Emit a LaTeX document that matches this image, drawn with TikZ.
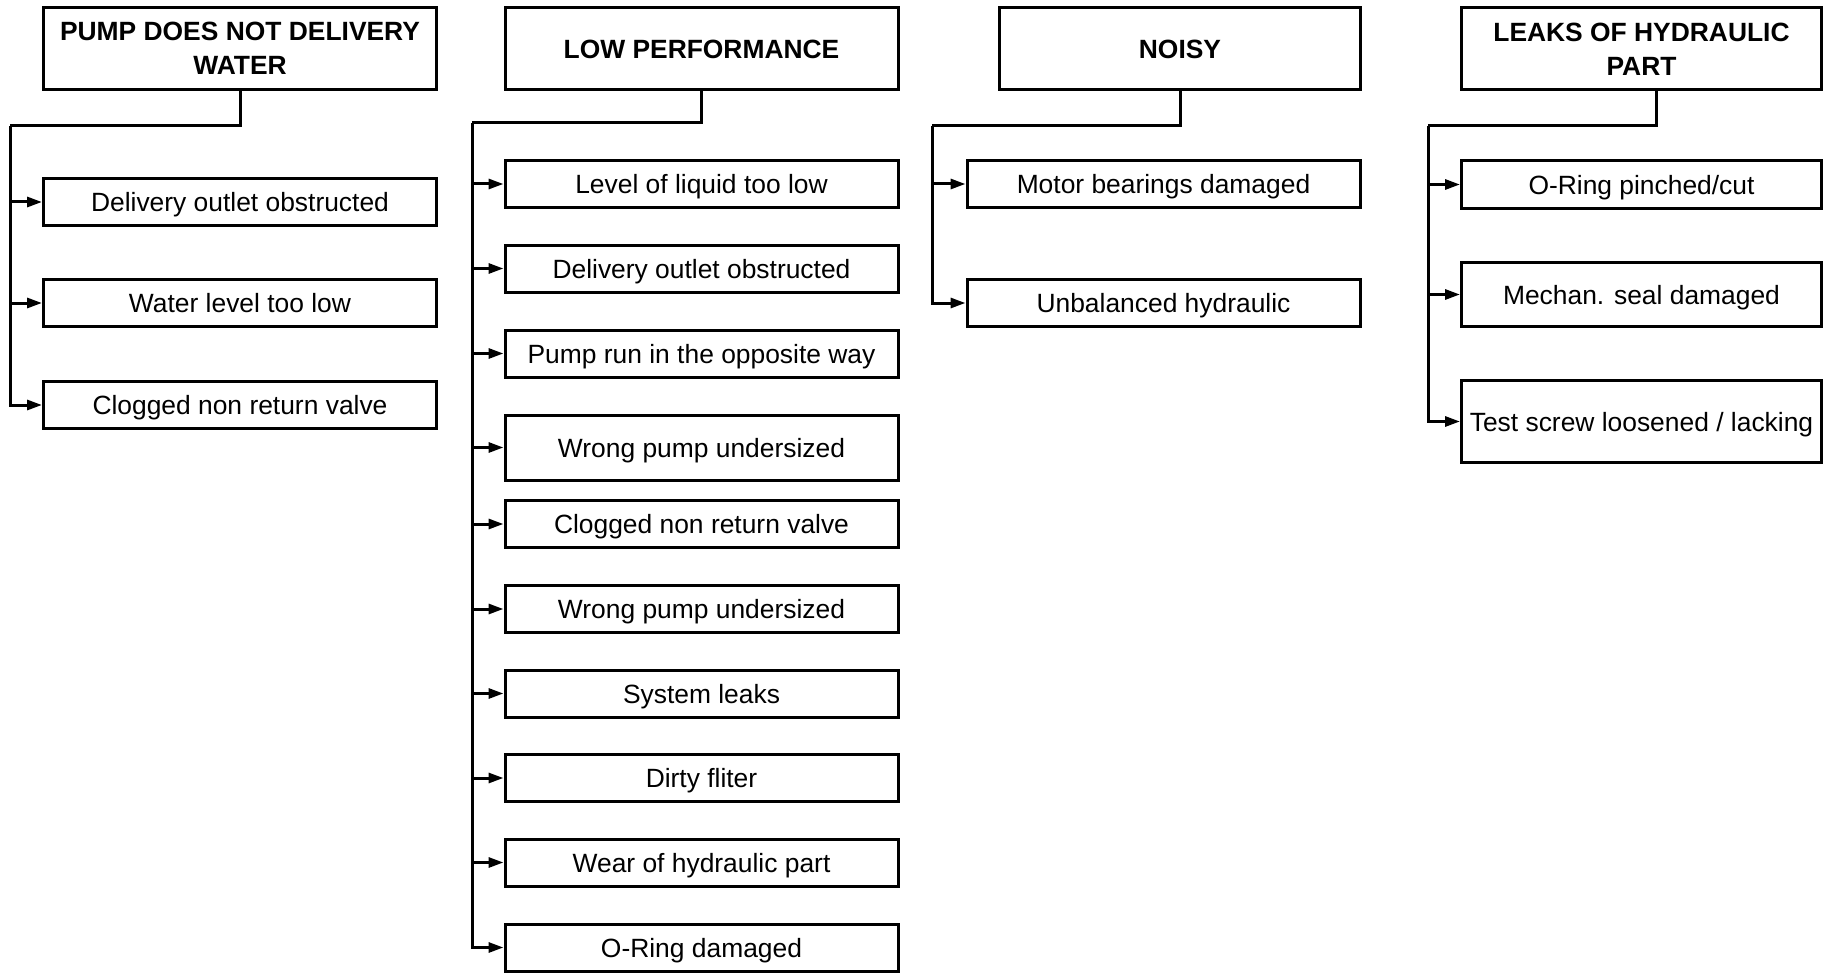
\documentclass[tikz,border=0pt]{standalone}
\usepackage{fontspec}
\setmainfont{Liberation Sans}
\usetikzlibrary{arrows.meta, positioning}

\begin{document}
\begin{tikzpicture}[x=0.5pt, y=-0.5pt,
    cause/.style={draw, line width=1.5pt, inner sep=0pt, minimum width=196.5pt, minimum height=23.5pt, text height=9.6pt, text depth=0pt, font=\fontsize{13.2}{17}\selectfont},
    hdr/.style={draw, line width=1.5pt, inner sep=0pt, minimum width=196.5pt, minimum height=41pt, align=center, font=\fontsize{13.2}{17}\selectfont\bfseries},
    link/.style={line width=1.5pt},
    arr/.style={link, -{Triangle[length=7.5pt,width=5pt]}}]
    \useasboundingbox (0,0) rectangle (1827,974);

    % Headers
    \node[hdr] (pumpH) at (240,48.5) {PUMP DOES NOT DELIVERY\\WATER};
    \node[hdr] (perfH) at (701.5,49) {LOW PERFORMANCE};
    \node[hdr, minimum width=180.5pt] (noisyH) at (1180,49) {NOISY};
    \node[hdr, minimum width=180pt] (leakH) at (1641.5,49) {LEAKS OF HYDRAULIC\\PART};

    % Pump does not delivery water
    \node[cause] (pump1) at (240,202) {Delivery outlet obstructed};
    \node[cause] (pump2) at (240,303) {Water level too low};
    \node[cause] (pump3) at (240,405) {Clogged non return valve};

    % Low performance
    \node[cause] (perf1) at (701.5,184) {Level of liquid too low};
    \node[cause] (perf2) at (701.5,268.5) {Delivery outlet obstructed};
    \node[cause] (perf3) at (701.5,353.5) {Pump run in the opposite way};
    \node[cause, minimum height=32.5pt] (perf4) at (701.5,447.5) {Wrong pump undersized};
    \node[cause] (perf5) at (701.5,524) {Clogged non return valve};
    \node[cause] (perf6) at (701.5,609) {Wrong pump undersized};
    \node[cause] (perf7) at (701.5,693.5) {System leaks};
    \node[cause] (perf8) at (701.5,778) {Dirty fliter};
    \node[cause] (perf9) at (701.5,862.5) {Wear of hydraulic part};
    \node[cause] (perf10) at (701.5,947.5) {O-Ring damaged};

    % Noisy
    \node[cause] (noisy1) at (1163.5,184) {Motor bearings damaged};
    \node[cause] (noisy2) at (1163.5,303) {Unbalanced hydraulic};

    % Leaks of hydraulic part
    \node[cause, minimum width=180pt] (leak1) at (1641.5,184.5) {O-Ring pinched/cut};
    \node[cause, minimum width=180pt, minimum height=32pt] (leak2) at (1641.5,294.5) {Mechan. seal damaged};
    \node[cause, minimum width=180pt, minimum height=41pt] (leak3) at (1641.5,421.5) {Test screw loosened / lacking};

    % Spines
    \coordinate (pumpS) at (10,126);
    \coordinate (perfS) at (472,123);
    \coordinate (noisyS) at (932,126);
    \coordinate (leakS) at (1428,126);

    \draw[link] (pumpH.south) |- (pumpS);
    \draw[link] (perfH.south) |- (perfS);
    \draw[link] (noisyH.south) |- (noisyS);
    \draw[link] ([xshift=7.5pt]leakH.south) |- (leakS);

    % Arrows
    \draw[arr] (pumpS) |- (pump1.west);
    \draw[arr] (pumpS) |- (pump2.west);
    \draw[arr] (pumpS) |- (pump3.west);

    \draw[arr] (perfS) |- (perf1.west);
    \draw[arr] (perfS) |- (perf2.west);
    \draw[arr] (perfS) |- (perf3.west);
    \draw[arr] (perfS) |- (perf4.west);
    \draw[arr] (perfS) |- (perf5.west);
    \draw[arr] (perfS) |- (perf6.west);
    \draw[arr] (perfS) |- (perf7.west);
    \draw[arr] (perfS) |- (perf8.west);
    \draw[arr] (perfS) |- (perf9.west);
    \draw[arr] (perfS) |- (perf10.west);

    \draw[arr] (noisyS) |- (noisy1.west);
    \draw[arr] (noisyS) |- (noisy2.west);

    \draw[arr] (leakS) |- (leak1.west);
    \draw[arr] (leakS) |- (leak2.west);
    \draw[arr] (leakS) |- (leak3.west);
\end{tikzpicture}
\end{document}
